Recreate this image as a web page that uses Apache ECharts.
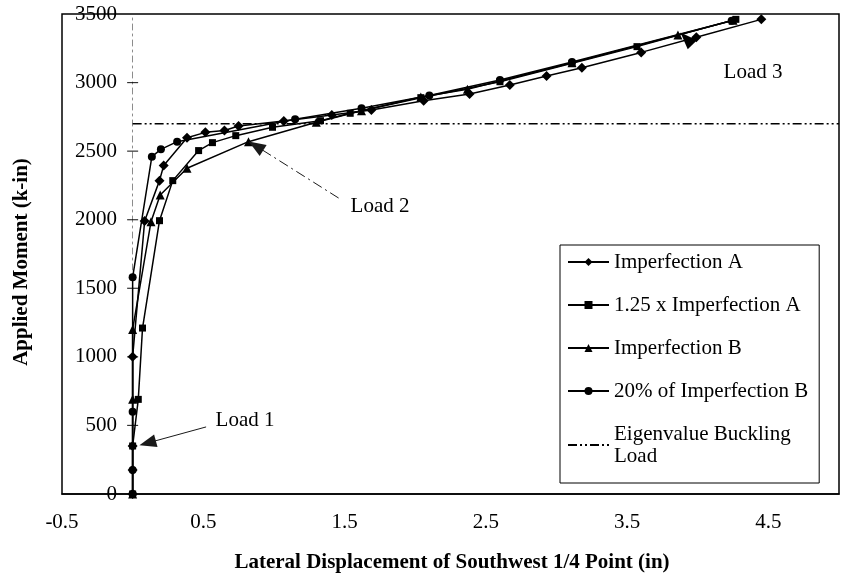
<!DOCTYPE html>
<html>
<head>
<meta charset="utf-8">
<script src="https://cdn.jsdelivr.net/npm/echarts@6/dist/echarts.min.js"></script>
<style>
  html, body { margin: 0; padding: 0; background: #fff; }
  #chart { width: 842px; height: 581px; }
</style>
</head>
<body>
<div id="chart"></div>
<script>
// Lateral displacement (in) vs applied moment (k-in) for each analysis case
const impAX = [0, 0, 0, 0, 0.085, 0.19, 0.22, 0.385, 0.515, 0.65, 0.75, 1.07, 1.41, 1.69, 2.06, 2.385, 2.67, 2.93, 3.18, 3.6, 3.99, 4.45];
const impAY = [0, 175, 350, 1000, 1990, 2285, 2395, 2598, 2637, 2650, 2683, 2720, 2763, 2800, 2868, 2917, 2982, 3048, 3108, 3220, 3330, 3461];

const imp125AX = [0, 0, 0.04, 0.07, 0.19, 0.284, 0.467, 0.565, 0.73, 0.99, 1.33, 1.54, 2.04, 2.6, 3.11, 3.57, 4.27];
const imp125AY = [0, 350, 690, 1210, 1993, 2285, 2504, 2562, 2613, 2674, 2722, 2776, 2890, 3006, 3140, 3262, 3461];

const impBX = [0, 0, 0, 0.13, 0.195, 0.385, 0.82, 1.3, 1.62, 2.04, 2.37, 3.11, 3.86, 4.25];
const impBY = [0, 690, 1200, 1986, 2180, 2375, 2569, 2710, 2795, 2895, 2951, 3145, 3347, 3455];

const imp20BX = [0, 0, 0, 0, 0.136, 0.2, 0.315, 1.15, 1.62, 2.1, 2.6, 3.11, 4.24];
const imp20BY = [0, 175, 600, 1580, 2460, 2513, 2569, 2732, 2812, 2905, 3019, 3150, 3451];

const eigenX = [0, 5];
const eigenY = [2700, 2700];

const seriesNames = ['Imperfection A', '1.25 x Imperfection A', 'Imperfection B', '20% of Imperfection B', 'Eigenvalue Buckling Load'];

// Axis tick labels
const xLabelValues = [-0.5, 0.5, 1.5, 2.5, 3.5, 4.5];
const yTickValues = [500, 1000, 1500, 2000, 2500, 3000];

// Load-step callouts: [tailX, tailY, tipX, tipY] in data units
const load1Arrow = [0.52, 489, 0.106, 372];
const load2Arrow = [1.458, 2158, 0.873, 2538];
const load3Arrow = [4.02, 3215, 3.92, 3320];

const SERIF = '"Liberation Serif", "Times New Roman", serif';

function pairs(xs, ys) { return xs.map((x, i) => [x, ys[i]]); }

function curve(name, xs, ys, symbol, size) {
  return {
    name: name, type: 'line', data: pairs(xs, ys),
    symbol: symbol, symbolSize: size, showSymbol: true,
    lineStyle: { color: '#000', width: 1.5 },
    itemStyle: { color: '#000' },
    z: 3
  };
}

const chart = echarts.init(document.getElementById('chart'), null, { renderer: 'canvas' });

chart.setOption({
  animation: false,
  backgroundColor: '#fff',
  grid: { left: 62, top: 14, width: 781, height: 480, show: true, borderColor: '#000', borderWidth: 1.5 },
  xAxis: {
    type: 'value', min: -0.5, max: 5, interval: 0.5,
    axisLine: { onZero: true, lineStyle: { color: '#000', width: 1.5 } },
    axisTick: { show: false },
    splitLine: { show: false },
    axisLabel: {
      color: '#000', fontFamily: SERIF, fontSize: 21, margin: 18,
      formatter: v => xLabelValues.some(l => Math.abs(l - v) < 1e-9) ? String(v) : ''
    }
  },
  yAxis: {
    type: 'value', min: 0, max: 3500, interval: 500,
    axisLine: { show: true, onZero: true, lineStyle: { color: '#8c8c8c', width: 1, type: [6, 4, 2, 4] } },
    axisTick: { show: false },
    splitLine: { show: false },
    axisLabel: { color: '#000', fontFamily: SERIF, fontSize: 21, margin: -55, align: 'right', formatter: v => String(v) }
  },
  legend: {
    data: seriesNames.slice(0, 4).concat([{ name: seriesNames[4], itemStyle: { opacity: 0 } }]),
    orient: 'vertical', left: 560, top: 245,
    padding: [6, 11, 16, 7], itemGap: 21, itemWidth: 41, itemHeight: 10,
    borderColor: '#000', borderWidth: 1, backgroundColor: '#fff',
    textStyle: { fontFamily: SERIF, fontSize: 21, color: '#000', lineHeight: 22 },
    formatter: n => n === 'Eigenvalue Buckling Load' ? 'Eigenvalue Buckling\nLoad' : n
  },
  graphic: [
    { type: 'text', x: 245, y: 420, style: { text: 'Load 1', font: '21px ' + SERIF, fill: '#000', align: 'center', verticalAlign: 'middle' } },
    { type: 'text', x: 380, y: 206, style: { text: 'Load 2', font: '21px ' + SERIF, fill: '#000', align: 'center', verticalAlign: 'middle' } },
    { type: 'text', x: 753, y: 72, style: { text: 'Load 3', font: '21px ' + SERIF, fill: '#000', align: 'center', verticalAlign: 'middle' } },
    { type: 'text', x: 452, y: 563, style: { text: 'Lateral Displacement of Southwest 1/4 Point (in)', font: 'bold 21px ' + SERIF, fill: '#000', align: 'center', verticalAlign: 'middle' } },
    { type: 'text', x: 22, y: 262, rotation: Math.PI / 2, style: { text: 'Applied Moment (k-in)', font: 'bold 21px ' + SERIF, fill: '#000', align: 'center', verticalAlign: 'middle' } }
  ],
  series: [
    curve(seriesNames[0], impAX, impAY, 'diamond', 10),
    curve(seriesNames[1], imp125AX, imp125AY, 'rect', 7),
    curve(seriesNames[2], impBX, impBY, 'triangle', 9),
    curve(seriesNames[3], imp20BX, imp20BY, 'circle', 8),
    {
      name: seriesNames[4], type: 'line', data: pairs(eigenX, eigenY),
      symbol: 'none', itemStyle: { color: '#000' },
      lineStyle: { color: '#000', width: 1.5, type: [9, 3, 2, 3, 2, 3] }, z: 2
    },
    {
      // cross ticks on the vertical axis through x = 0
      type: 'scatter', data: yTickValues.map(v => [0, v]),
      symbol: 'rect', symbolSize: [11, 1.2], itemStyle: { color: '#000' }, silent: true, z: 4
    },
    {
      type: 'line', data: [], silent: true,
      markLine: {
        silent: true, animation: false, symbol: ['none', 'triangle'], symbolSize: [13, 17],
        label: { show: false },
        data: [
          [{ coord: [load1Arrow[0], load1Arrow[1]], lineStyle: { color: '#1a1a1a', width: 1, type: 'solid', opacity: 1 } }, { coord: [load1Arrow[2], load1Arrow[3]] }],
          [{ coord: [load2Arrow[0], load2Arrow[1]], lineStyle: { color: '#1a1a1a', width: 1, type: [10, 4, 2, 4], opacity: 1 } }, { coord: [load2Arrow[2], load2Arrow[3]] }],
          [{ coord: [load3Arrow[0], load3Arrow[1]], lineStyle: { color: '#000', width: 0, opacity: 1 } }, { coord: [load3Arrow[2], load3Arrow[3]] }]
        ]
      }
    }
  ]
});
</script>
</body>
</html>
